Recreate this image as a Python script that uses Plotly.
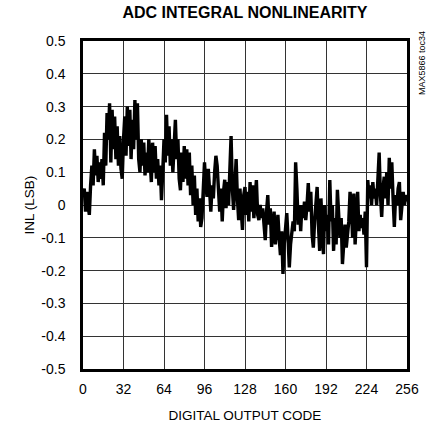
import plotly.graph_objects as go

# INL per output code (LSB), codes 0..256
codes = list(range(257))
inl = [
    0.03, 0.05, -0.02, 0.04, 0.0, -0.03, 0.06, 0.12, 0.06, 0.17, 0.09, 0.15, 0.07, 0.13, 0.08, 0.14,
    0.06, 0.22, 0.12, 0.28, 0.2, 0.31, 0.13, 0.29, 0.17, 0.27, 0.14, 0.24, 0.12, 0.21, 0.11, 0.08,
    0.2, 0.27, 0.15, 0.3, 0.18, 0.29, 0.14, 0.26, 0.17, 0.32, 0.2, 0.31, 0.14, 0.1, 0.2, 0.12,
    0.19, 0.09, 0.16, 0.1, 0.2, 0.12, 0.07, 0.19, 0.1, 0.18, 0.08, 0.14, 0.06, 0.12, 0.015, 0.1,
    0.2, 0.13, 0.275, 0.15, 0.24, 0.12, 0.2, 0.1, 0.18, 0.26, 0.14, 0.2, 0.08, 0.045, 0.16, 0.07,
    0.18, 0.08, 0.17, 0.06, 0.16, 0.03, 0.12, 0.0, 0.09, -0.03, 0.05, -0.05, 0.02, -0.067, -0.04, 0.08,
    0.13, 0.06, 0.025, 0.11, 0.05, -0.02, 0.06, 0.02, 0.1, 0.15, 0.12, 0.03, -0.02, 0.05, -0.05, 0.04,
    0.077, -0.01, 0.07, 0.0, 0.09, 0.21, 0.05, -0.015, 0.06, 0.14, 0.02, -0.046, 0.05, -0.04, -0.076, 0.03,
    0.055, -0.03, 0.04, -0.05, 0.07, -0.02, 0.06, -0.04, 0.03, 0.076, -0.03, -0.046, 0.0, -0.04, -0.01, -0.08,
    -0.107, -0.02, 0.03, -0.06, -0.01, -0.128, -0.05, -0.02, -0.12, -0.07, -0.03, -0.1, -0.153, -0.08, -0.21, -0.12,
    -0.06, -0.025, -0.1, -0.19, -0.12, -0.067, -0.05, -0.08, 0.13, 0.05, -0.06, 0.0, -0.08, 0.0, -0.04, 0.01,
    -0.046, 0.0, 0.067, -0.02, 0.04, -0.09, -0.13, -0.05, 0.01, 0.055, -0.06, -0.14, 0.02, -0.1, -0.15, 0.0,
    -0.08, -0.03, -0.12, 0.076, -0.05, 0.0, -0.14, -0.04, -0.12, 0.046, -0.06, -0.1, -0.04, -0.18, -0.12, -0.06,
    -0.13, -0.09, -0.05, 0.04, 0.0, -0.1, 0.035, -0.12, -0.05, 0.04, -0.08, -0.03, -0.07, -0.04, -0.09, -0.02,
    -0.19, 0.076, 0.02, 0.06, 0.0, 0.07, 0.02, 0.05, 0.0, 0.09, 0.16, 0.03, -0.036, 0.05, 0.086, 0.02,
    0.1, 0.0, 0.144, 0.05, 0.13, 0.02, -0.067, 0.03, 0.0, 0.05, 0.07, -0.046, 0.0, 0.04, 0.0, 0.03,
    0.01,
]

x_ticks = [0, 32, 64, 96, 128, 160, 192, 224, 256]
y_ticks = [0.5, 0.4, 0.3, 0.2, 0.1, 0, -0.1, -0.2, -0.3, -0.4, -0.5]
y_labels = ["0.5", "0.4", "0.3", "0.2", "0.1", "0", "-0.1", "-0.2", "-0.3", "-0.4", "-0.5"]

FONT = "Liberation Sans, Arial, sans-serif"

fig = go.Figure()
fig.add_trace(go.Scatter(
    x=codes, y=inl, mode="lines",
    line=dict(color="black", width=3.4),
    hoverinfo="skip", showlegend=False,
))

fig.update_layout(
    width=430, height=427,
    margin=dict(l=83, r=23, t=41, b=58),
    paper_bgcolor="white", plot_bgcolor="white",
    font=dict(family=FONT, size=14, color="black"),
    title=dict(
        text="<b>ADC INTEGRAL NONLINEARITY</b>",
        x=(83 + 407) / 2 / 430, xanchor="center",
        y=1 - 12 / 427, yanchor="middle",
        font=dict(family=FONT, size=16, color="black"),
    ),
)

fig.update_xaxes(
    range=[0, 256], tickvals=x_ticks, ticktext=[str(v) for v in x_ticks],
    showgrid=True, gridcolor="#333333", gridwidth=1,
    zeroline=False, showline=True, linecolor="black", linewidth=2.5, mirror=True,
    ticks="", ticklabelstandoff=5, automargin=False,
    title=dict(text="DIGITAL OUTPUT CODE", standoff=16, font=dict(size=13.5)),
)
fig.update_yaxes(
    range=[-0.5, 0.5], tickvals=y_ticks, ticktext=y_labels,
    showgrid=True, gridcolor="#333333", gridwidth=1,
    zeroline=False, showline=True, linecolor="black", linewidth=2.5, mirror=True,
    ticks="", ticklabelstandoff=12, automargin=False,
    title=dict(text="INL (LSB)", standoff=4, font=dict(size=13.5)),
)

fig.add_annotation(
    text="MAX5866 toc34", xref="paper", yref="paper",
    x=1 + 15 / 324, y=1 - 22 / 328, xanchor="center", yanchor="middle",
    textangle=-90, showarrow=False,
    font=dict(family=FONT, size=9, color="black"),
)

fig.write_html("out.html")
